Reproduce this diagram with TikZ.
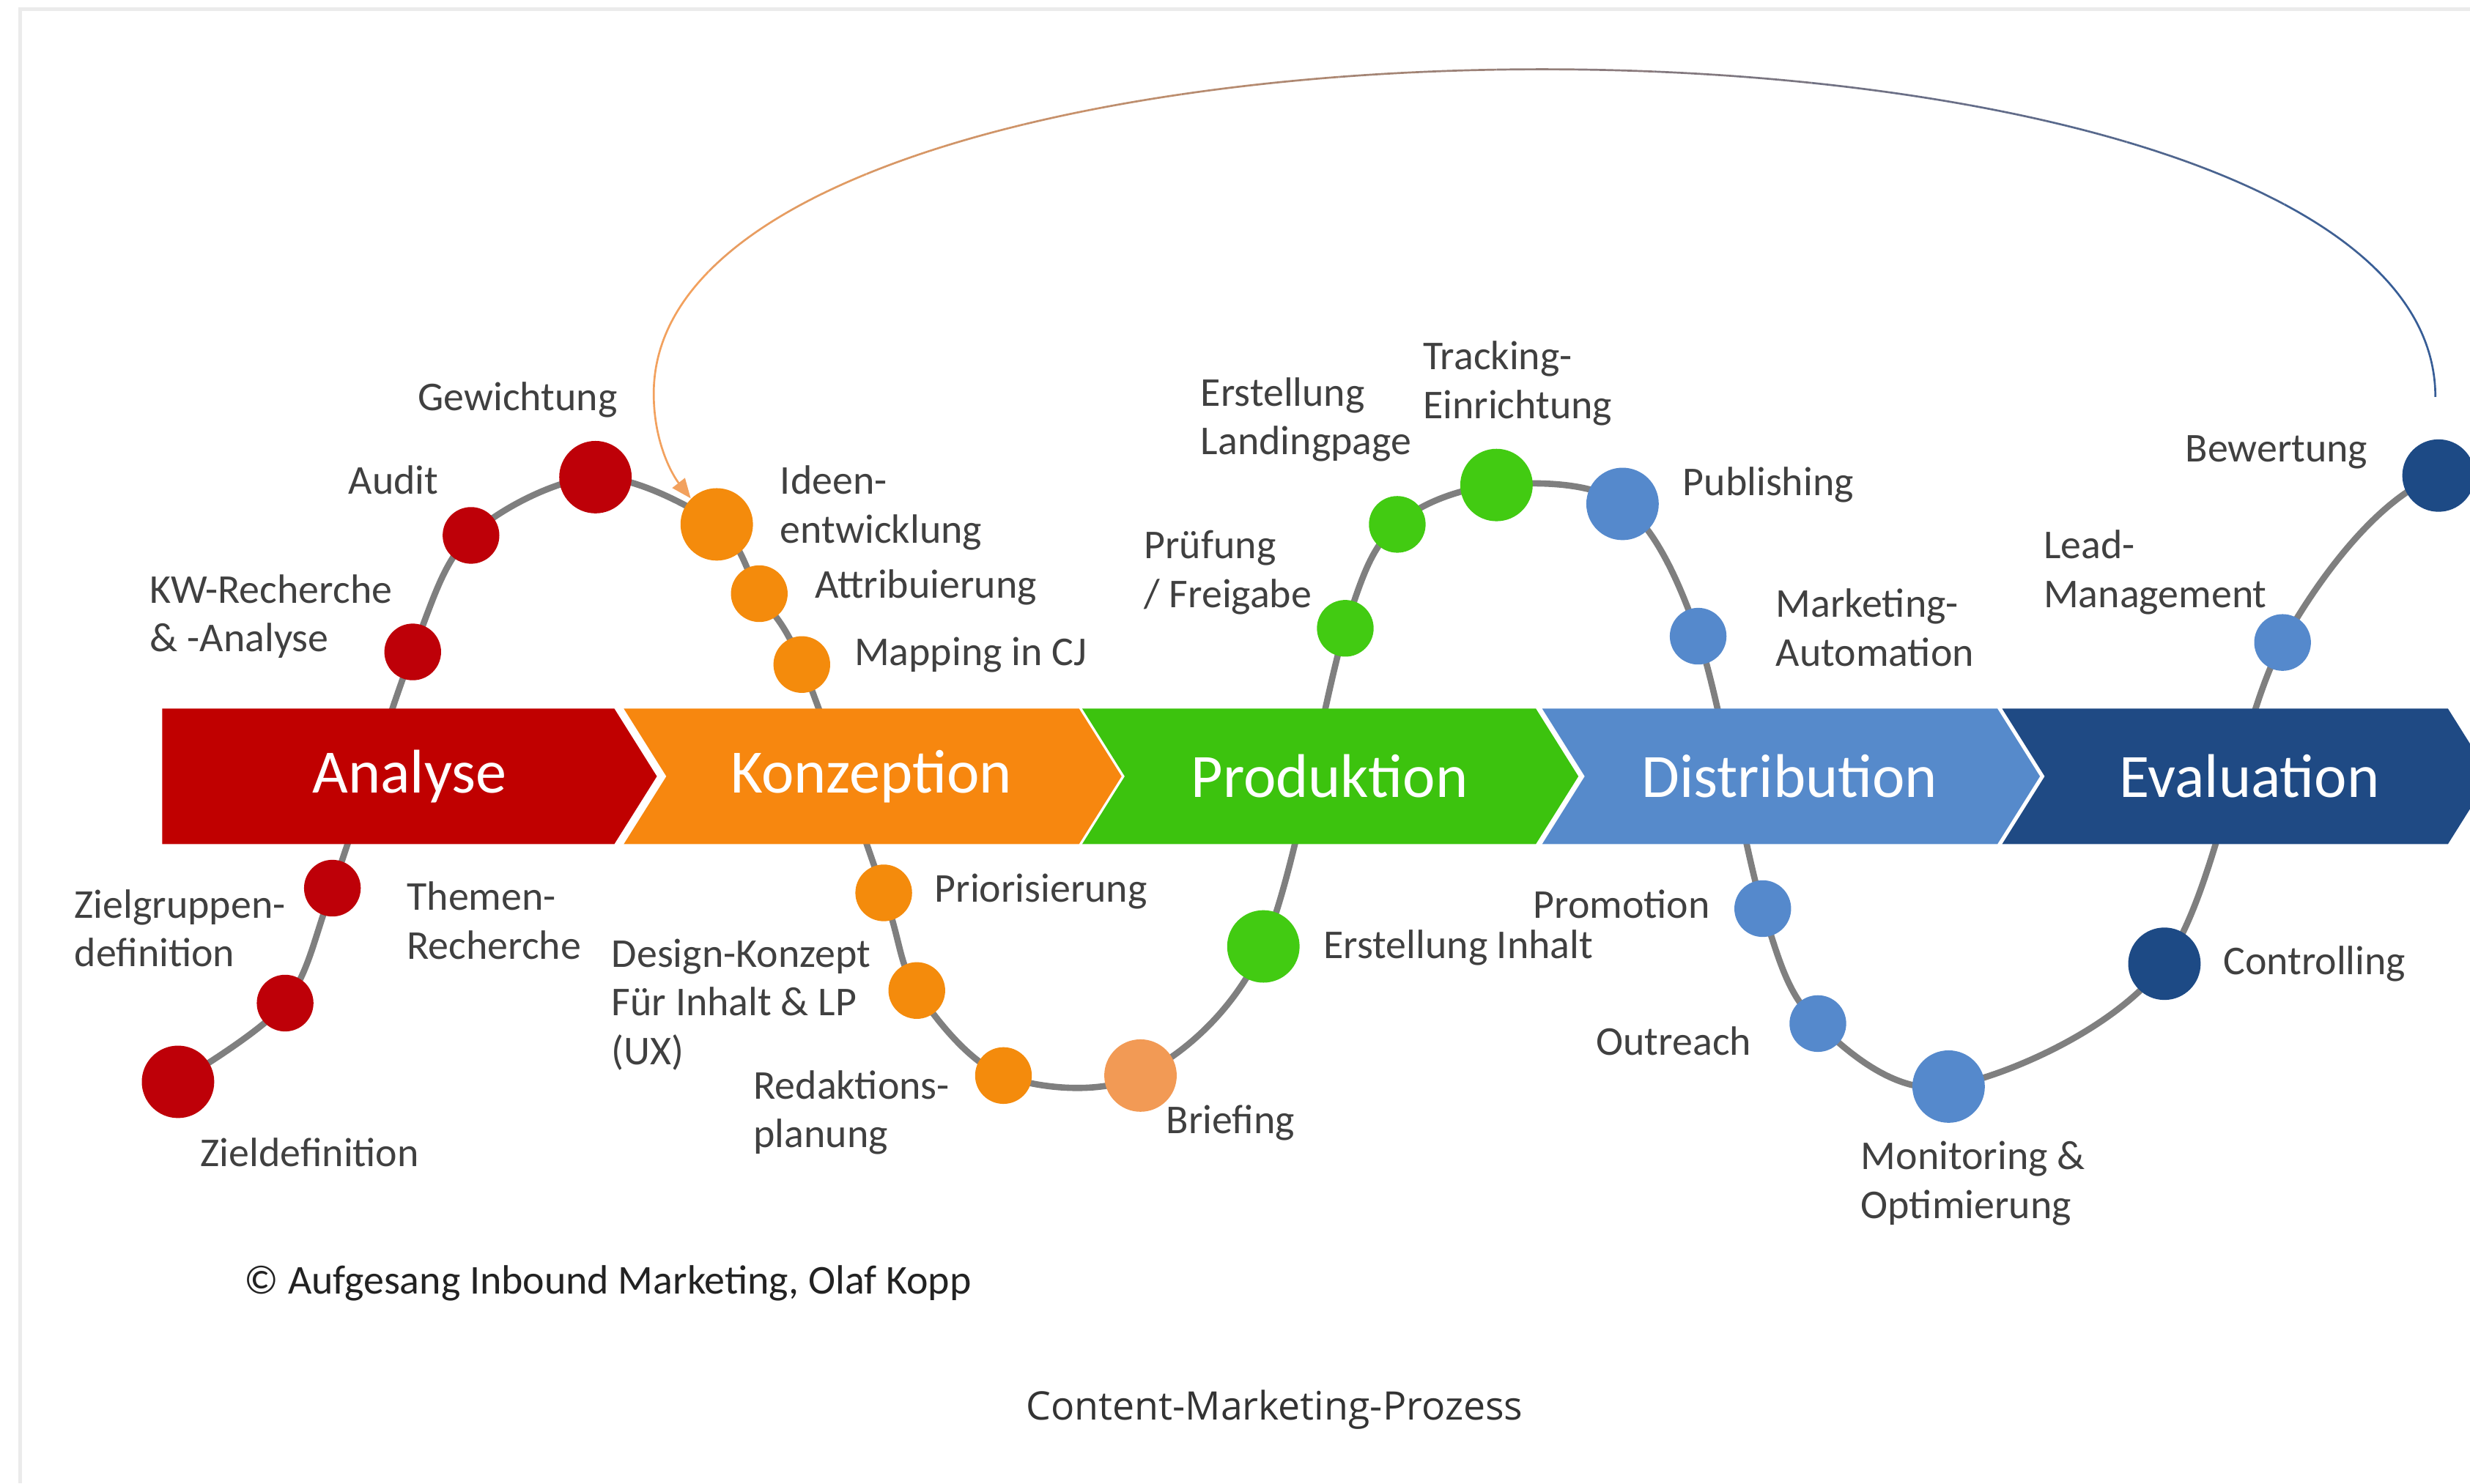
\documentclass[tikz,border=0pt]{standalone}
\usepackage{fontspec}
\setmainfont{Carlito}
\newfontfamily\capfont{Open Sans}
\usetikzlibrary{arrows.meta, backgrounds}

\definecolor{analysered}{HTML}{C00000}
\definecolor{konzorange}{HTML}{F7870F}
\definecolor{prodgreen}{HTML}{3CC30E}
\definecolor{distblue}{HTML}{568ACB}
\definecolor{evalnavy}{HTML}{1F4A84}
\definecolor{dotred}{HTML}{BE0008}
\definecolor{dotorange}{HTML}{F48B0C}
\definecolor{dotpeach}{HTML}{F29A55}
\definecolor{dotgreen}{HTML}{42CB12}
\definecolor{dotblue}{HTML}{5589CC}
\definecolor{dotnavy}{HTML}{1D4A85}
\definecolor{wavegray}{HTML}{7F7F7F}
\definecolor{labelgray}{HTML}{404040}
\definecolor{copyblack}{HTML}{222222}
\definecolor{capgray}{HTML}{333333}
\definecolor{framegray}{HTML}{EBEBEB}
\definecolor{arcorange}{HTML}{F2A15E}
\definecolor{arcblue}{HTML}{2F5A98}

\tikzset{
  bigdot/.style={circle, minimum size=0.92cm, inner sep=0pt},
  smalldot/.style={circle, minimum size=0.72cm, inner sep=0pt},
  lbl/.style={anchor=west, align=left, inner sep=0pt, text=labelgray, font=\fontsize{14.8}{17.6}\selectfont},
  phase/.style={text=white, font=\fontsize{22.3}{26}\selectfont},
  wave/.style={line width=0.08cm, draw=wavegray},
  arcline/.style={line width=0.025cm, -{Triangle[length=0.25cm,width=0.2cm]}},
}

\begin{document}
\begin{tikzpicture}[x=0.02cm, y=-0.02cm]
  \useasboundingbox (0,0) rectangle (1568,942);

  % dots along the wave
  \node[bigdot, fill=dotred] (1) at (113,687) {};
  \node[smalldot, fill=dotred] (2) at (181,637) {};
  \node[smalldot, fill=dotred] (3) at (211,564) {};
  \node[smalldot, fill=dotred] (4) at (262,414) {};
  \node[smalldot, fill=dotred] (5) at (299,340) {};
  \node[bigdot, fill=dotred] (6) at (378,303) {};
  \node[bigdot, fill=dotorange] (7) at (455,333) {};
  \node[smalldot, fill=dotorange] (8) at (482,377) {};
  \node[smalldot, fill=dotorange] (9) at (509,422) {};
  \node[smalldot, fill=dotorange] (10) at (561,567) {};
  \node[smalldot, fill=dotorange] (11) at (582,629) {};
  \node[smalldot, fill=dotorange] (12) at (637,683) {};
  \node[bigdot, fill=dotpeach] (13) at (724,683) {};
  \node[bigdot, fill=dotgreen] (14) at (802,601) {};
  \node[smalldot, fill=dotgreen] (15) at (854,399) {};
  \node[smalldot, fill=dotgreen] (16) at (887,333) {};
  \node[bigdot, fill=dotgreen] (17) at (950,308) {};
  \node[bigdot, fill=dotblue] (18) at (1030,320) {};
  \node[smalldot, fill=dotblue] (19) at (1078,404) {};
  \node[smalldot, fill=dotblue] (20) at (1119,577) {};
  \node[smalldot, fill=dotblue] (21) at (1154,650) {};
  \node[bigdot, fill=dotblue] (22) at (1237,690) {};
  \node[bigdot, fill=dotnavy] (23) at (1374,612) {};
  \node[smalldot, fill=dotblue] (24) at (1449,408) {};
  \node[bigdot, fill=dotnavy] (25) at (1548,302) {};
  \coordinate (wend) at (1680,325);

  \begin{pgfonlayer}{background}
    \draw[line width=0.05cm, draw=framegray] (12.7,942) -- (12.7,5.9) -- (1568,5.9);
    \draw[wave] plot[smooth, tension=0.55] coordinates {(1.center) (2.center) (3.center)
      (4.center) (5.center) (6.center) (7.center) (8.center) (9.center) (10.center)
      (11.center) (12.center) (13.center) (14.center) (15.center) (16.center) (17.center)
      (18.center) (19.center) (20.center) (21.center) (22.center) (23.center) (24.center)
      (25.center) (wend)};
    % phase banner
    \foreach \x/\w/\n/\c/\t [count=\i] in {103/287/0/analysered/Analyse,
        396/289/27/konzorange/Konzeption, 687/288/27/prodgreen/Produktion,
        979/289/27/distblue/Distribution, 1271/283/27/evalnavy/Evaluation}{
      \fill[\c] (\x,450) -- ++(\w,0) -- ++(27,43) -- ++(-27,43) -- ++(-\w,0) -- ++(\n,-43) -- cycle;
      \node[phase] (p\i) at (\x+157,493) {\t};
    }
  \end{pgfonlayer}

  % feedback arc
  \coordinate (arcR) at (1546,252);
  \coordinate (arcM) at (415,250);
  \foreach \k in {0,...,23}{
    \pgfmathtruncatemacro\mix{100-\k*100/23}
    \begin{scope}
      \clip (400+\k*50,0) rectangle ++(50,420);
      \draw[arcline, draw=arcorange!\mix!arcblue]
        (arcR) .. controls +(0,-277) and +(0,-275) .. (arcM)
        .. controls +(0,32) and +(-11,-14) .. (7.north west);
    \end{scope}
  }

  % labels
  \node[lbl] (l1) at (127,732) {Zieldefinition};
  \node[lbl] (l2) at (47,589.5) {Zielgruppen-\\definition};
  \node[lbl] (l3) at (258,584.5) {Themen-\\Recherche};
  \node[lbl] (l4) at (95,391.5) {KW-Recherche\\\& -Analyse};
  \node[lbl] (l5) at (221,305) {Audit};
  \node[lbl] (l6) at (265,254) {Gewichtung};
  \node[lbl] (l7) at (495,322.5) {Ideen-\\entwicklung};
  \node[lbl] (l8) at (517,373) {Attribuierung};
  \node[lbl] (l9) at (542,416) {Mapping in CJ};
  \node[lbl] (l10) at (593,566) {Priorisierung};
  \node[lbl] (l11) at (388,638) {Design-Konzept\\Für Inhalt \& LP\\(UX)};
  \node[lbl] (l12) at (478,706.5) {Redaktions-\\planung};
  \node[lbl] (l13) at (740,713) {Briefing};
  \node[lbl] (l14) at (840,602) {Erstellung Inhalt};
  \node[lbl] (l15) at (726,363.5) {Prüfung\\/ Freigabe};
  \node[lbl] (l16) at (762,266.5) {Erstellung\\Landingpage};
  \node[lbl] (l17) at (903,243.5) {Tracking-\\Einrichtung};
  \node[lbl] (l18) at (1068,308) {Publishing};
  \node[lbl] (l19) at (1127,398.5) {Marketing-\\Automation};
  \node[lbl] (l20) at (973,574) {Promotion};
  \node[lbl] (l21) at (1013,661) {Outreach};
  \node[lbl] (l22) at (1181,751.5) {Monitoring \&\\Optimierung};
  \node[lbl] (l23) at (1411,612) {Controlling};
  \node[lbl] (l24) at (1297,363.5) {Lead-\\Management};
  \node[lbl] (l25) at (1387,287) {Bewertung};

  \node[lbl, text=copyblack] (copy) at (155,815) {© Aufgesang Inbound Marketing, Olaf Kopp};
  \node[text=capgray, font=\capfont\fontsize{14.2}{17}\selectfont] (cap) at (809,895) {Content-Marketing-Prozess};
\end{tikzpicture}
\end{document}
